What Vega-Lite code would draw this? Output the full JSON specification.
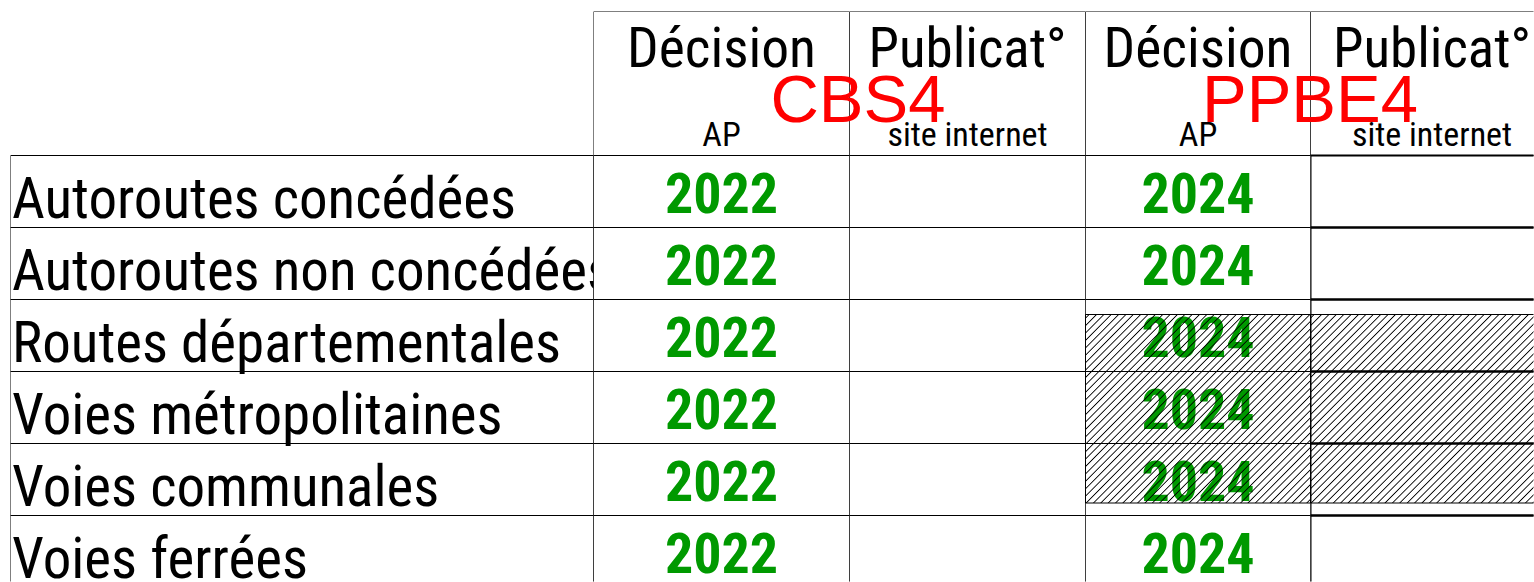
{
"$schema": "https://vega.github.io/schema/vega-lite/v6.json",
"background": "white",
"padding": {"left": 10.5, "top": 11.5, "right": 0, "bottom": 0},
"spacing": 0,
"bounds": "flush",
"datasets": {
 "lignes": [
  {"ligne": "r1", "voie": "Autoroutes concédées", "CBS4": "2022", "PPBE4": "2024"},
  {"ligne": "r2", "voie": "Autoroutes non concédées", "CBS4": "2022", "PPBE4": "2024"},
  {"ligne": "r3", "voie": "Routes départementales", "CBS4": "2022", "PPBE4": "2024"},
  {"ligne": "r4", "voie": "Voies métropolitaines", "CBS4": "2022", "PPBE4": "2024"},
  {"ligne": "r5", "voie": "Voies communales", "CBS4": "2022", "PPBE4": "2024"},
  {"ligne": "r6", "voie": "Voies ferrées", "CBS4": "2022", "PPBE4": "2024"}
 ],
 "entetes": [
  {"plan": "CBS4", "etape": "Décision", "titre": "Décision", "detail": "AP"},
  {"plan": "CBS4", "etape": "Publication", "titre": "Publicat°", "detail": "site internet"},
  {"plan": "PPBE4", "etape": "Décision", "titre": "Décision", "detail": "AP"},
  {"plan": "PPBE4", "etape": "Publication", "titre": "Publicat°", "detail": "site internet"}
 ],
 "hachures": [{"plan": "PPBE4", "debut": "r3", "fin": "r5"}]
},
"config": {
 "view": {"stroke": null}
},
"hconcat": [
 {
  "width": 583, "height": 570,
  "data": {"name": "lignes"},
  "layer": [
   {"mark": {"type": "rect", "fill": "transparent", "stroke": "#000", "strokeWidth": 1, "clip": true},
    "encoding": {
     "y": {"field": "ligne", "type": "nominal", "bandPosition": 0, "axis": null, "scale": {"domain": ["h1","h2","r1","r2","r3","r4","r5","r6"], "range": [0, 576], "paddingInner": 0, "paddingOuter": 0}},
     "y2": {"field": "ligne", "bandPosition": 1}}},
   {"mark": {"type": "text", "align": "left", "baseline": "alphabetic", "dx": 1.5, "dy": 26.5, "font": "Roboto Condensed, Liberation Sans", "fontSize": 57, "color": "#000", "clip": true},
    "encoding": {
     "x": {"datum": "voie", "type": "nominal", "bandPosition": 0, "axis": null, "scale": {"type": "band", "paddingInner": 0, "paddingOuter": 0}},
     "y": {"field": "ligne", "type": "nominal"},
     "text": {"field": "voie"}}}
  ]
 },
 {
  "width": 256, "height": 570,
  "layer": [
   {"data": {"name": "lignes"},
    "mark": {"type": "rect", "fill": "transparent", "stroke": "#000", "strokeWidth": 1, "clip": true},
    "encoding": {
     "y": {"field": "ligne", "type": "nominal", "bandPosition": 0, "axis": null, "scale": {"domain": ["h1","h2","r1","r2","r3","r4","r5","r6"], "range": [0, 576], "paddingInner": 0, "paddingOuter": 0}},
     "y2": {"field": "ligne", "bandPosition": 1}}},
   {"data": {"name": "entetes"},
    "transform": [{"filter": {"field": "plan", "equal": "CBS4"}}, {"filter": {"field": "etape", "equal": "Décision"}}],
    "layer": [
     {"mark": {"type": "rect", "fill": "transparent", "stroke": "#000", "strokeWidth": 1, "clip": true},
      "encoding": {"y": {"datum": "h1", "type": "nominal", "bandPosition": 0}, "y2": {"datum": "h2", "bandPosition": 1}}},
     {"mark": {"type": "text", "baseline": "alphabetic", "dy": 19.8, "font": "Roboto Condensed, Liberation Sans", "fontSize": 55.5, "color": "#000"},
      "encoding": {"y": {"datum": "h1", "type": "nominal"}, "text": {"field": "titre"}}},
     {"mark": {"type": "text", "baseline": "alphabetic", "dy": 26.5, "font": "Roboto Condensed, Liberation Sans", "fontSize": 34, "color": "#000"},
      "encoding": {"y": {"datum": "h2", "type": "nominal"}, "text": {"field": "detail"}}}
    ]},
   {"data": {"name": "lignes"},
    "mark": {"type": "text", "baseline": "alphabetic", "dy": 21.8, "font": "Roboto Condensed, Liberation Sans", "fontSize": 56, "fontWeight": "bold", "color": "#009900", "clip": true},
    "encoding": {"y": {"field": "ligne", "type": "nominal"}, "text": {"field": "CBS4"}}}
  ]
 },
 {
  "width": 236, "height": 570,
  "layer": [
   {"data": {"name": "lignes"},
    "mark": {"type": "rect", "fill": "transparent", "stroke": "#000", "strokeWidth": 1, "clip": true},
    "encoding": {
     "y": {"field": "ligne", "type": "nominal", "bandPosition": 0, "axis": null, "scale": {"domain": ["h1","h2","r1","r2","r3","r4","r5","r6"], "range": [0, 576], "paddingInner": 0, "paddingOuter": 0}},
     "y2": {"field": "ligne", "bandPosition": 1}}},
   {"data": {"name": "entetes"},
    "transform": [{"filter": {"field": "plan", "equal": "CBS4"}}, {"filter": {"field": "etape", "equal": "Publication"}}],
    "layer": [
     {"mark": {"type": "rect", "fill": "transparent", "stroke": "#000", "strokeWidth": 1, "clip": true},
      "encoding": {"y": {"datum": "h1", "type": "nominal", "bandPosition": 0}, "y2": {"datum": "h2", "bandPosition": 1}}},
     {"mark": {"type": "text", "baseline": "alphabetic", "dy": 19.8, "font": "Roboto Condensed, Liberation Sans", "fontSize": 55, "color": "#000"},
      "encoding": {"y": {"datum": "h1", "type": "nominal"}, "text": {"field": "titre"}}},
     {"mark": {"type": "text", "baseline": "alphabetic", "dy": 26.5, "font": "Roboto Condensed, Liberation Sans", "fontSize": 34, "color": "#000"},
      "encoding": {"y": {"datum": "h2", "type": "nominal"}, "text": {"field": "detail"}}},
     {"mark": {"type": "text", "align": "center", "baseline": "alphabetic", "dx": 8.5, "dy": 2.2, "font": "Liberation Sans, Arial, sans-serif", "fontSize": 67, "color": "#ff0000"},
      "encoding": {
       "x": {"datum": "plan", "type": "nominal", "bandPosition": 0, "axis": null, "scale": {"type": "band", "paddingInner": 0, "paddingOuter": 0}},
       "y": {"datum": "h2", "type": "nominal"}, "text": {"field": "plan"}}}
    ]}
  ]
 },
 {
  "width": 225, "height": 570,
  "layer": [
   {"data": {"name": "lignes"},
    "mark": {"type": "rect", "fill": "transparent", "stroke": "#000", "strokeWidth": 1, "clip": true},
    "encoding": {
     "y": {"field": "ligne", "type": "nominal", "bandPosition": 0, "axis": null, "scale": {"domain": ["h1","h2","r1","r2","r3","r4","r5","r6"], "range": [0, 576], "paddingInner": 0, "paddingOuter": 0}},
     "y2": {"field": "ligne", "bandPosition": 1}}},
   {"data": {"name": "entetes"},
    "transform": [{"filter": {"field": "plan", "equal": "PPBE4"}}, {"filter": {"field": "etape", "equal": "Décision"}}],
    "layer": [
     {"mark": {"type": "rect", "fill": "transparent", "stroke": "#000", "strokeWidth": 1, "clip": true},
      "encoding": {"y": {"datum": "h1", "type": "nominal", "bandPosition": 0}, "y2": {"datum": "h2", "bandPosition": 1}}},
     {"mark": {"type": "text", "baseline": "alphabetic", "dy": 19.8, "font": "Roboto Condensed, Liberation Sans", "fontSize": 55.5, "color": "#000"},
      "encoding": {"y": {"datum": "h1", "type": "nominal"}, "text": {"field": "titre"}}},
     {"mark": {"type": "text", "baseline": "alphabetic", "dy": 26.5, "font": "Roboto Condensed, Liberation Sans", "fontSize": 34, "color": "#000"},
      "encoding": {"y": {"datum": "h2", "type": "nominal"}, "text": {"field": "detail"}}}
    ]},
   {"data": {"name": "lignes"},
    "mark": {"type": "text", "baseline": "alphabetic", "dy": 21.8, "font": "Roboto Condensed, Liberation Sans", "fontSize": 56, "fontWeight": "bold", "color": "#009900", "clip": true},
    "encoding": {"y": {"field": "ligne", "type": "nominal"}, "text": {"field": "PPBE4"}}},
   {"data": {"name": "hachures"},
    "mark": {"type": "rect", "stroke": "#000", "strokeWidth": 1, "x2Offset": -2.5, "yOffset": 15, "y2Offset": -12.5,
     "fill": {"gradient": "linear", "x1": 0, "y1": 0, "x2": 1.083, "y2": 0.9, "stops": [
{"offset":0.0059,"color":"#0000"},{"offset":0.0089,"color":"#000"},{"offset":0.0119,"color":"#0000"},
{"offset":0.0238,"color":"#0000"},{"offset":0.0268,"color":"#000"},{"offset":0.0298,"color":"#0000"},
{"offset":0.0416,"color":"#0000"},{"offset":0.0446,"color":"#000"},{"offset":0.0476,"color":"#0000"},
{"offset":0.0595,"color":"#0000"},{"offset":0.0625,"color":"#000"},{"offset":0.0655,"color":"#0000"},
{"offset":0.0774,"color":"#0000"},{"offset":0.0804,"color":"#000"},{"offset":0.0834,"color":"#0000"},
{"offset":0.0952,"color":"#0000"},{"offset":0.0982,"color":"#000"},{"offset":0.1012,"color":"#0000"},
{"offset":0.1131,"color":"#0000"},{"offset":0.1161,"color":"#000"},{"offset":0.1191,"color":"#0000"},
{"offset":0.1309,"color":"#0000"},{"offset":0.1339,"color":"#000"},{"offset":0.1369,"color":"#0000"},
{"offset":0.1488,"color":"#0000"},{"offset":0.1518,"color":"#000"},{"offset":0.1548,"color":"#0000"},
{"offset":0.1666,"color":"#0000"},{"offset":0.1696,"color":"#000"},{"offset":0.1726,"color":"#0000"},
{"offset":0.1845,"color":"#0000"},{"offset":0.1875,"color":"#000"},{"offset":0.1905,"color":"#0000"},
{"offset":0.2024,"color":"#0000"},{"offset":0.2054,"color":"#000"},{"offset":0.2084,"color":"#0000"},
{"offset":0.2202,"color":"#0000"},{"offset":0.2232,"color":"#000"},{"offset":0.2262,"color":"#0000"},
{"offset":0.2381,"color":"#0000"},{"offset":0.2411,"color":"#000"},{"offset":0.2441,"color":"#0000"},
{"offset":0.2559,"color":"#0000"},{"offset":0.2589,"color":"#000"},{"offset":0.2619,"color":"#0000"},
{"offset":0.2738,"color":"#0000"},{"offset":0.2768,"color":"#000"},{"offset":0.2798,"color":"#0000"},
{"offset":0.2916,"color":"#0000"},{"offset":0.2946,"color":"#000"},{"offset":0.2976,"color":"#0000"},
{"offset":0.3095,"color":"#0000"},{"offset":0.3125,"color":"#000"},{"offset":0.3155,"color":"#0000"},
{"offset":0.3274,"color":"#0000"},{"offset":0.3304,"color":"#000"},{"offset":0.3334,"color":"#0000"},
{"offset":0.3452,"color":"#0000"},{"offset":0.3482,"color":"#000"},{"offset":0.3512,"color":"#0000"},
{"offset":0.3631,"color":"#0000"},{"offset":0.3661,"color":"#000"},{"offset":0.3691,"color":"#0000"},
{"offset":0.3809,"color":"#0000"},{"offset":0.3839,"color":"#000"},{"offset":0.3869,"color":"#0000"},
{"offset":0.3988,"color":"#0000"},{"offset":0.4018,"color":"#000"},{"offset":0.4048,"color":"#0000"},
{"offset":0.4166,"color":"#0000"},{"offset":0.4196,"color":"#000"},{"offset":0.4226,"color":"#0000"},
{"offset":0.4345,"color":"#0000"},{"offset":0.4375,"color":"#000"},{"offset":0.4405,"color":"#0000"},
{"offset":0.4524,"color":"#0000"},{"offset":0.4554,"color":"#000"},{"offset":0.4584,"color":"#0000"},
{"offset":0.4702,"color":"#0000"},{"offset":0.4732,"color":"#000"},{"offset":0.4762,"color":"#0000"},
{"offset":0.4881,"color":"#0000"},{"offset":0.4911,"color":"#000"},{"offset":0.4941,"color":"#0000"},
{"offset":0.5059,"color":"#0000"},{"offset":0.5089,"color":"#000"},{"offset":0.5119,"color":"#0000"},
{"offset":0.5238,"color":"#0000"},{"offset":0.5268,"color":"#000"},{"offset":0.5298,"color":"#0000"},
{"offset":0.5416,"color":"#0000"},{"offset":0.5446,"color":"#000"},{"offset":0.5476,"color":"#0000"},
{"offset":0.5595,"color":"#0000"},{"offset":0.5625,"color":"#000"},{"offset":0.5655,"color":"#0000"},
{"offset":0.5774,"color":"#0000"},{"offset":0.5804,"color":"#000"},{"offset":0.5834,"color":"#0000"},
{"offset":0.5952,"color":"#0000"},{"offset":0.5982,"color":"#000"},{"offset":0.6012,"color":"#0000"},
{"offset":0.6131,"color":"#0000"},{"offset":0.6161,"color":"#000"},{"offset":0.6191,"color":"#0000"},
{"offset":0.6309,"color":"#0000"},{"offset":0.6339,"color":"#000"},{"offset":0.6369,"color":"#0000"},
{"offset":0.6488,"color":"#0000"},{"offset":0.6518,"color":"#000"},{"offset":0.6548,"color":"#0000"},
{"offset":0.6666,"color":"#0000"},{"offset":0.6696,"color":"#000"},{"offset":0.6726,"color":"#0000"},
{"offset":0.6845,"color":"#0000"},{"offset":0.6875,"color":"#000"},{"offset":0.6905,"color":"#0000"},
{"offset":0.7024,"color":"#0000"},{"offset":0.7054,"color":"#000"},{"offset":0.7084,"color":"#0000"},
{"offset":0.7202,"color":"#0000"},{"offset":0.7232,"color":"#000"},{"offset":0.7262,"color":"#0000"},
{"offset":0.7381,"color":"#0000"},{"offset":0.7411,"color":"#000"},{"offset":0.7441,"color":"#0000"},
{"offset":0.7559,"color":"#0000"},{"offset":0.7589,"color":"#000"},{"offset":0.7619,"color":"#0000"},
{"offset":0.7738,"color":"#0000"},{"offset":0.7768,"color":"#000"},{"offset":0.7798,"color":"#0000"},
{"offset":0.7916,"color":"#0000"},{"offset":0.7946,"color":"#000"},{"offset":0.7976,"color":"#0000"},
{"offset":0.8095,"color":"#0000"},{"offset":0.8125,"color":"#000"},{"offset":0.8155,"color":"#0000"},
{"offset":0.8274,"color":"#0000"},{"offset":0.8304,"color":"#000"},{"offset":0.8334,"color":"#0000"},
{"offset":0.8452,"color":"#0000"},{"offset":0.8482,"color":"#000"},{"offset":0.8512,"color":"#0000"},
{"offset":0.8631,"color":"#0000"},{"offset":0.8661,"color":"#000"},{"offset":0.8691,"color":"#0000"},
{"offset":0.8809,"color":"#0000"},{"offset":0.8839,"color":"#000"},{"offset":0.8869,"color":"#0000"},
{"offset":0.8988,"color":"#0000"},{"offset":0.9018,"color":"#000"},{"offset":0.9048,"color":"#0000"},
{"offset":0.9166,"color":"#0000"},{"offset":0.9196,"color":"#000"},{"offset":0.9226,"color":"#0000"},
{"offset":0.9345,"color":"#0000"},{"offset":0.9375,"color":"#000"},{"offset":0.9405,"color":"#0000"},
{"offset":0.9524,"color":"#0000"},{"offset":0.9554,"color":"#000"},{"offset":0.9584,"color":"#0000"},
{"offset":0.9702,"color":"#0000"},{"offset":0.9732,"color":"#000"},{"offset":0.9762,"color":"#0000"},
{"offset":0.9881,"color":"#0000"},{"offset":0.9911,"color":"#000"},{"offset":0.9941,"color":"#0000"}
     ]}},
    "encoding": {"y": {"field": "debut", "type": "nominal", "bandPosition": 0}, "y2": {"field": "fin", "bandPosition": 1}}}
  ]
 },
 {
  "width": 223, "height": 570,
  "layer": [
   {"data": {"name": "lignes"},
    "mark": {"type": "rect", "fill": "transparent", "stroke": "#000", "strokeWidth": 2, "xOffset": 3, "clip": true},
    "encoding": {
     "y": {"field": "ligne", "type": "nominal", "bandPosition": 0, "axis": null, "scale": {"domain": ["h1","h2","r1","r2","r3","r4","r5","r6"], "range": [0, 576], "paddingInner": 0, "paddingOuter": 0}},
     "y2": {"field": "ligne", "bandPosition": 1}}},
   {"data": {"name": "entetes"},
    "transform": [{"filter": {"field": "plan", "equal": "PPBE4"}}, {"filter": {"field": "etape", "equal": "Publication"}}],
    "layer": [
     {"mark": {"type": "rect", "fill": "transparent", "stroke": "#000", "strokeWidth": 1, "xOffset": 3, "clip": true},
      "encoding": {"y": {"datum": "h1", "type": "nominal", "bandPosition": 0}, "y2": {"datum": "h2", "bandPosition": 1}}},
     {"mark": {"type": "text", "baseline": "alphabetic", "dx": 10, "dy": 19.8, "font": "Roboto Condensed, Liberation Sans", "fontSize": 55, "color": "#000"},
      "encoding": {"y": {"datum": "h1", "type": "nominal"}, "text": {"field": "titre"}}},
     {"mark": {"type": "text", "baseline": "alphabetic", "dx": 10, "dy": 26.5, "font": "Roboto Condensed, Liberation Sans", "fontSize": 34, "color": "#000"},
      "encoding": {"y": {"datum": "h2", "type": "nominal"}, "text": {"field": "detail"}}}
    ]},
   {"data": {"name": "hachures"},
    "mark": {"type": "rect", "stroke": "#000", "strokeWidth": 1, "xOffset": 3, "yOffset": 15, "y2Offset": -12.5, "clip": true,
     "fill": {"gradient": "linear", "x1": 0, "y1": 0, "x2": 1.083, "y2": 0.9, "stops": [
{"offset":0.0059,"color":"#0000"},{"offset":0.0089,"color":"#000"},{"offset":0.0119,"color":"#0000"},
{"offset":0.0238,"color":"#0000"},{"offset":0.0268,"color":"#000"},{"offset":0.0298,"color":"#0000"},
{"offset":0.0416,"color":"#0000"},{"offset":0.0446,"color":"#000"},{"offset":0.0476,"color":"#0000"},
{"offset":0.0595,"color":"#0000"},{"offset":0.0625,"color":"#000"},{"offset":0.0655,"color":"#0000"},
{"offset":0.0774,"color":"#0000"},{"offset":0.0804,"color":"#000"},{"offset":0.0834,"color":"#0000"},
{"offset":0.0952,"color":"#0000"},{"offset":0.0982,"color":"#000"},{"offset":0.1012,"color":"#0000"},
{"offset":0.1131,"color":"#0000"},{"offset":0.1161,"color":"#000"},{"offset":0.1191,"color":"#0000"},
{"offset":0.1309,"color":"#0000"},{"offset":0.1339,"color":"#000"},{"offset":0.1369,"color":"#0000"},
{"offset":0.1488,"color":"#0000"},{"offset":0.1518,"color":"#000"},{"offset":0.1548,"color":"#0000"},
{"offset":0.1666,"color":"#0000"},{"offset":0.1696,"color":"#000"},{"offset":0.1726,"color":"#0000"},
{"offset":0.1845,"color":"#0000"},{"offset":0.1875,"color":"#000"},{"offset":0.1905,"color":"#0000"},
{"offset":0.2024,"color":"#0000"},{"offset":0.2054,"color":"#000"},{"offset":0.2084,"color":"#0000"},
{"offset":0.2202,"color":"#0000"},{"offset":0.2232,"color":"#000"},{"offset":0.2262,"color":"#0000"},
{"offset":0.2381,"color":"#0000"},{"offset":0.2411,"color":"#000"},{"offset":0.2441,"color":"#0000"},
{"offset":0.2559,"color":"#0000"},{"offset":0.2589,"color":"#000"},{"offset":0.2619,"color":"#0000"},
{"offset":0.2738,"color":"#0000"},{"offset":0.2768,"color":"#000"},{"offset":0.2798,"color":"#0000"},
{"offset":0.2916,"color":"#0000"},{"offset":0.2946,"color":"#000"},{"offset":0.2976,"color":"#0000"},
{"offset":0.3095,"color":"#0000"},{"offset":0.3125,"color":"#000"},{"offset":0.3155,"color":"#0000"},
{"offset":0.3274,"color":"#0000"},{"offset":0.3304,"color":"#000"},{"offset":0.3334,"color":"#0000"},
{"offset":0.3452,"color":"#0000"},{"offset":0.3482,"color":"#000"},{"offset":0.3512,"color":"#0000"},
{"offset":0.3631,"color":"#0000"},{"offset":0.3661,"color":"#000"},{"offset":0.3691,"color":"#0000"},
{"offset":0.3809,"color":"#0000"},{"offset":0.3839,"color":"#000"},{"offset":0.3869,"color":"#0000"},
{"offset":0.3988,"color":"#0000"},{"offset":0.4018,"color":"#000"},{"offset":0.4048,"color":"#0000"},
{"offset":0.4166,"color":"#0000"},{"offset":0.4196,"color":"#000"},{"offset":0.4226,"color":"#0000"},
{"offset":0.4345,"color":"#0000"},{"offset":0.4375,"color":"#000"},{"offset":0.4405,"color":"#0000"},
{"offset":0.4524,"color":"#0000"},{"offset":0.4554,"color":"#000"},{"offset":0.4584,"color":"#0000"},
{"offset":0.4702,"color":"#0000"},{"offset":0.4732,"color":"#000"},{"offset":0.4762,"color":"#0000"},
{"offset":0.4881,"color":"#0000"},{"offset":0.4911,"color":"#000"},{"offset":0.4941,"color":"#0000"},
{"offset":0.5059,"color":"#0000"},{"offset":0.5089,"color":"#000"},{"offset":0.5119,"color":"#0000"},
{"offset":0.5238,"color":"#0000"},{"offset":0.5268,"color":"#000"},{"offset":0.5298,"color":"#0000"},
{"offset":0.5416,"color":"#0000"},{"offset":0.5446,"color":"#000"},{"offset":0.5476,"color":"#0000"},
{"offset":0.5595,"color":"#0000"},{"offset":0.5625,"color":"#000"},{"offset":0.5655,"color":"#0000"},
{"offset":0.5774,"color":"#0000"},{"offset":0.5804,"color":"#000"},{"offset":0.5834,"color":"#0000"},
{"offset":0.5952,"color":"#0000"},{"offset":0.5982,"color":"#000"},{"offset":0.6012,"color":"#0000"},
{"offset":0.6131,"color":"#0000"},{"offset":0.6161,"color":"#000"},{"offset":0.6191,"color":"#0000"},
{"offset":0.6309,"color":"#0000"},{"offset":0.6339,"color":"#000"},{"offset":0.6369,"color":"#0000"},
{"offset":0.6488,"color":"#0000"},{"offset":0.6518,"color":"#000"},{"offset":0.6548,"color":"#0000"},
{"offset":0.6666,"color":"#0000"},{"offset":0.6696,"color":"#000"},{"offset":0.6726,"color":"#0000"},
{"offset":0.6845,"color":"#0000"},{"offset":0.6875,"color":"#000"},{"offset":0.6905,"color":"#0000"},
{"offset":0.7024,"color":"#0000"},{"offset":0.7054,"color":"#000"},{"offset":0.7084,"color":"#0000"},
{"offset":0.7202,"color":"#0000"},{"offset":0.7232,"color":"#000"},{"offset":0.7262,"color":"#0000"},
{"offset":0.7381,"color":"#0000"},{"offset":0.7411,"color":"#000"},{"offset":0.7441,"color":"#0000"},
{"offset":0.7559,"color":"#0000"},{"offset":0.7589,"color":"#000"},{"offset":0.7619,"color":"#0000"},
{"offset":0.7738,"color":"#0000"},{"offset":0.7768,"color":"#000"},{"offset":0.7798,"color":"#0000"},
{"offset":0.7916,"color":"#0000"},{"offset":0.7946,"color":"#000"},{"offset":0.7976,"color":"#0000"},
{"offset":0.8095,"color":"#0000"},{"offset":0.8125,"color":"#000"},{"offset":0.8155,"color":"#0000"},
{"offset":0.8274,"color":"#0000"},{"offset":0.8304,"color":"#000"},{"offset":0.8334,"color":"#0000"},
{"offset":0.8452,"color":"#0000"},{"offset":0.8482,"color":"#000"},{"offset":0.8512,"color":"#0000"},
{"offset":0.8631,"color":"#0000"},{"offset":0.8661,"color":"#000"},{"offset":0.8691,"color":"#0000"},
{"offset":0.8809,"color":"#0000"},{"offset":0.8839,"color":"#000"},{"offset":0.8869,"color":"#0000"},
{"offset":0.8988,"color":"#0000"},{"offset":0.9018,"color":"#000"},{"offset":0.9048,"color":"#0000"},
{"offset":0.9166,"color":"#0000"},{"offset":0.9196,"color":"#000"},{"offset":0.9226,"color":"#0000"},
{"offset":0.9345,"color":"#0000"},{"offset":0.9375,"color":"#000"},{"offset":0.9405,"color":"#0000"},
{"offset":0.9524,"color":"#0000"},{"offset":0.9554,"color":"#000"},{"offset":0.9584,"color":"#0000"},
{"offset":0.9702,"color":"#0000"},{"offset":0.9732,"color":"#000"},{"offset":0.9762,"color":"#0000"},
{"offset":0.9881,"color":"#0000"},{"offset":0.9911,"color":"#000"},{"offset":0.9941,"color":"#0000"}
     ]}},
    "encoding": {"y": {"field": "debut", "type": "nominal", "bandPosition": 0}, "y2": {"field": "fin", "bandPosition": 1}}},
   {"data": {"name": "entetes"},
    "transform": [{"filter": {"field": "plan", "equal": "PPBE4"}}, {"filter": {"field": "etape", "equal": "Publication"}}],
    "mark": {"type": "text", "align": "center", "baseline": "alphabetic", "dx": -0.5, "dy": 2.2, "font": "Liberation Sans, Arial, sans-serif", "fontSize": 67, "color": "#ff0000"},
    "encoding": {
     "x": {"datum": "plan", "type": "nominal", "bandPosition": 0, "axis": null, "scale": {"type": "band", "paddingInner": 0, "paddingOuter": 0}},
     "y": {"datum": "h2", "type": "nominal"}, "text": {"field": "plan"}}}
  ]
 }
]
}
